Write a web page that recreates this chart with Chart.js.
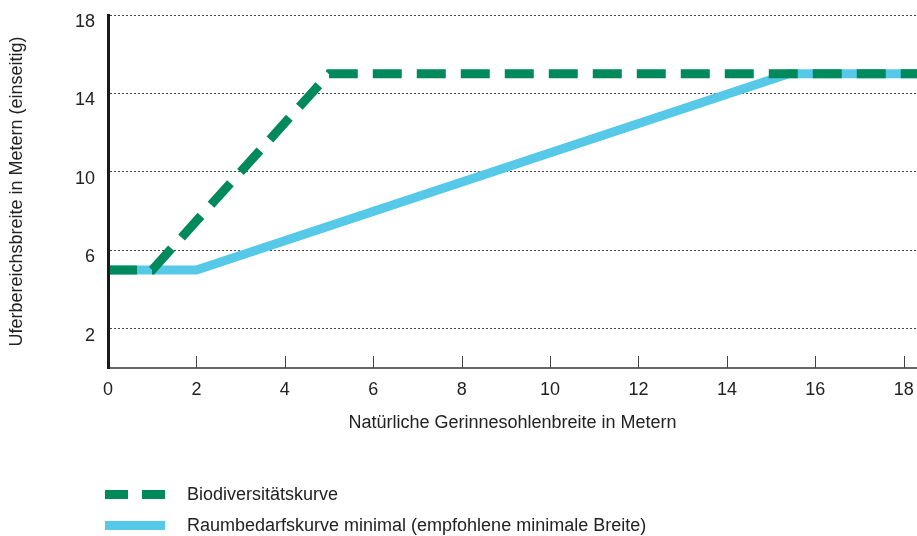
<!DOCTYPE html>
<html lang="de">
<head>
<meta charset="utf-8">
<title>Biodiversitätskurve und Raumbedarfskurve</title>
<script src="https://cdn.jsdelivr.net/npm/chart.js@4.4.1/dist/chart.umd.min.js"></script>
<style>
    html, body { margin: 0; padding: 0; background: #ffffff; }
    .wrap { position: relative; width: 917px; height: 536px; }
    .legend {
        position: absolute; left: 105px; top: 479px;
        font-family: 'Liberation Sans', Arial, sans-serif;
        font-size: 18px; color: #222;
    }
    .legend-item { display: flex; align-items: center; height: 31px; }
    .legend-swatch { width: 60px; height: 9px; margin-right: 22px; }
</style>
</head>
<body>
<div class="wrap">
    <canvas id="chart" width="917" height="536"></canvas>
    <div class="legend" id="legend"></div>
</div>
<script>
// Natürliche Gerinnesohlenbreite (x) gegen Uferbereichsbreite (y)
const bioX = [0, 1, 5, 18.3];
const bioY = [5, 5, 15, 15];
const raumX = [0, 2, 15.4, 18.3];
const raumY = [5, 5, 15, 15];

const seriesLabels = [
    'Biodiversitätskurve',
    'Raumbedarfskurve minimal (empfohlene minimale Breite)'
];

const yTicks = [2, 6, 10, 14, 18];
const xMin = 0, xMax = 18.3, xStep = 2;
const yMin = 0, yMax = 18;

const fontFamily = "'Liberation Sans', Arial, sans-serif";
const green = '#00895a';
const blue = '#56c8e8';

function toPoints(xs, ys) {
    return xs.map((x, i) => ({ x: x, y: ys[i] }));
}

// tick marks on the x axis point up into the plot
const upTicks = {
    id: 'upTicks',
    beforeDatasetsDraw(chart) {
        const { ctx, chartArea, scales } = chart;
        const x = scales.x;
        ctx.save();
        ctx.strokeStyle = '#444';
        ctx.lineWidth = 1;
        x.ticks.forEach(t => {
            if (t.value === xMin) return;
            const px = Math.round(x.getPixelForValue(t.value)) + 0.5;
            ctx.beginPath();
            ctx.moveTo(px, chartArea.bottom);
            ctx.lineTo(px, chartArea.bottom - 12);
            ctx.stroke();
        });
        ctx.restore();
    }
};

const chart = new Chart(document.getElementById('chart'), {
    type: 'line',
    data: {
        datasets: [
            {
                label: seriesLabels[0],
                data: toPoints(bioX, bioY),
                borderColor: green,
                backgroundColor: green,
                borderWidth: 9,
                borderDash: [29, 15],
                pointRadius: 0,
                tension: 0
            },
            {
                label: seriesLabels[1],
                data: toPoints(raumX, raumY),
                borderColor: blue,
                backgroundColor: blue,
                borderWidth: 9,
                pointRadius: 0,
                tension: 0
            }
        ]
    },
    options: {
        responsive: false,
        animation: false,
        layout: { padding: { top: 15, right: 0, bottom: 96, left: 0 } },
        plugins: {
            legend: { display: false },
            tooltip: { enabled: false }
        },
        scales: {
            x: {
                type: 'linear',
                min: xMin,
                max: xMax,
                grid: { display: false },
                border: { display: true, color: '#666', width: 2 },
                ticks: {
                    stepSize: xStep,
                    includeBounds: false,
                    padding: 3,
                    color: '#222',
                    font: { family: fontFamily, size: 18 }
                },
                title: {
                    display: true,
                    text: 'Natürliche Gerinnesohlenbreite in Metern',
                    color: '#222',
                    font: { family: fontFamily, size: 18 },
                    padding: { top: 0, bottom: 6 }
                },
                afterFit(scale) {
                    scale.height = 72;
                    scale.paddingLeft = 0;
                    scale.paddingRight = 0;
                }
            },
            y: {
                type: 'linear',
                min: yMin,
                max: yMax,
                afterBuildTicks(scale) {
                    scale.ticks = yTicks.map(v => ({ value: v }));
                },
                grid: {
                    color: '#444',
                    lineWidth: 1,
                    drawTicks: false
                },
                // in v4 border.dash styles the grid lines
                border: { display: true, color: '#1a1a1a', width: 3, dash: [2, 2], z: 1 },
                ticks: {
                    padding: 13,
                    labelOffset: 7,
                    color: '#222',
                    font: { family: fontFamily, size: 18 }
                },
                title: {
                    display: true,
                    text: 'Uferbereichsbreite in Metern (einseitig)',
                    color: '#222',
                    font: { family: fontFamily, size: 18 },
                    padding: { top: 6, bottom: 0 }
                },
                afterFit(scale) {
                    scale.width = 108;
                    scale.paddingTop = 0;
                    scale.paddingBottom = 0;
                }
            }
        }
    },
    plugins: [upTicks]
});

// legend built from the datasets
const legendEl = document.getElementById('legend');
chart.data.datasets.forEach(ds => {
    const item = document.createElement('div');
    item.className = 'legend-item';
    const sw = document.createElement('span');
    sw.className = 'legend-swatch';
    if (ds.borderDash) {
        sw.style.background = 'linear-gradient(to right, ' + ds.borderColor + ' 0 23px, transparent 23px 37px, ' + ds.borderColor + ' 37px 60px)';
    } else {
        sw.style.background = ds.borderColor;
    }
    const txt = document.createElement('span');
    txt.textContent = ds.label;
    item.appendChild(sw);
    item.appendChild(txt);
    legendEl.appendChild(item);
});
</script>
</body>
</html>
